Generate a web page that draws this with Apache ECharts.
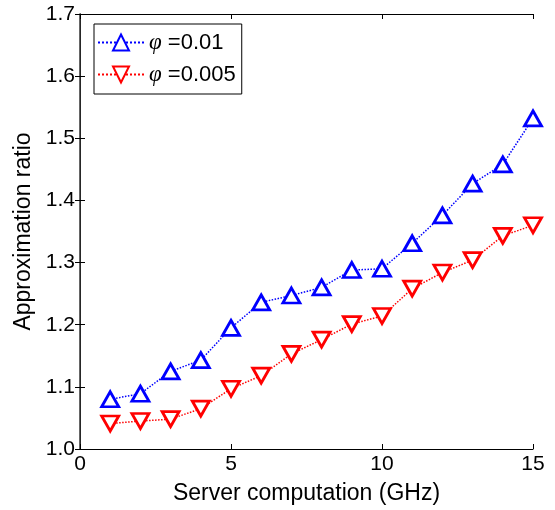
<!DOCTYPE html>
<html>
<head>
<meta charset="utf-8">
<script src="https://cdn.jsdelivr.net/npm/echarts@6/dist/echarts.min.js"></script>
<style>
  html, body { margin: 0; padding: 0; background: #fff; }
  #main { width: 555px; height: 510px; }
</style>
</head>
<body>
<div id="main"></div>
<script>
const xValues = [1, 2, 3, 4, 5, 6, 7, 8, 9, 10, 11, 12, 13, 14, 15]
const ratio001 = [1.080, 1.089, 1.125, 1.143, 1.195, 1.236, 1.247, 1.260, 1.288, 1.290, 1.331, 1.376, 1.427, 1.458, 1.532]
const ratio0005 = [1.041, 1.045, 1.048, 1.065, 1.097, 1.118, 1.153, 1.176, 1.201, 1.214, 1.258, 1.284, 1.304, 1.343, 1.360]
const seriesNames = ['{i|φ} =0.01', '{i|φ} =0.005']

const font = 'Liberation Sans, Arial, Helvetica, sans-serif'

function pairs(ys) {
  return xValues.map((x, i) => [x, ys[i]])
}

const chart = echarts.init(document.getElementById('main'))
const option = {
  animation: false,
  grid: { left: 80, right: 22, top: 14, bottom: 61, show: false },
  legend: {
    left: 94,
    top: 24,
    orient: 'vertical',
    backgroundColor: '#fff',
    borderColor: '#000',
    borderWidth: 1,
    borderRadius: 0,
    padding: [7, 6, 8, 3],
    itemWidth: 46,
    itemHeight: 20,
    itemGap: 9,
    data: seriesNames,
    textStyle: {
      fontFamily: font,
      fontSize: 22,
      color: '#000',
      rich: {
        i: { fontFamily: 'Liberation Serif, Times New Roman, serif', fontStyle: 'italic', fontSize: 23 }
      }
    }
  },
  xAxis: [
    {
      type: 'value',
      min: 0,
      max: 15,
      interval: 5,
      name: 'Server computation (GHz)',
      nameLocation: 'middle',
      nameGap: 33,
      nameTextStyle: { fontFamily: font, fontSize: 23, color: '#000' },
      axisLine: { show: true, lineStyle: { color: '#000', width: 1 } },
      axisTick: { show: true, inside: true, length: 5, lineStyle: { color: '#000' } },
      axisLabel: { fontFamily: font, fontSize: 21, color: '#000', margin: 5 },
      splitLine: { show: false }
    },
    {
      type: 'value',
      position: 'top',
      min: 0,
      max: 15,
      interval: 5,
      axisLine: { show: true, lineStyle: { color: '#000', width: 1 } },
      axisTick: { show: true, inside: true, length: 5, lineStyle: { color: '#000' } },
      axisLabel: { show: false },
      splitLine: { show: false }
    }
  ],
  yAxis: [
    {
      type: 'value',
      min: 1.0,
      max: 1.7,
      interval: 0.1,
      name: 'Approximation ratio',
      nameLocation: 'middle',
      nameGap: 40,
      nameTextStyle: { fontFamily: font, fontSize: 23, color: '#000' },
      axisLine: { show: true, lineStyle: { color: '#000', width: 1 } },
      axisTick: { show: true, inside: true, length: 5, lineStyle: { color: '#000' } },
      axisLabel: {
        fontFamily: font,
        fontSize: 21,
        color: '#000',
        margin: 5,
        formatter: v => v.toFixed(1)
      },
      splitLine: { show: false }
    },
    {
      type: 'value',
      position: 'right',
      min: 1.0,
      max: 1.7,
      interval: 0.1,
      axisLine: { show: true, lineStyle: { color: '#333', width: 1.5 } },
      axisTick: { show: true, inside: true, length: 5, lineStyle: { color: '#000' } },
      axisLabel: { show: false },
      splitLine: { show: false }
    }
  ],
  series: [
    {
      name: seriesNames[0],
      type: 'line',
      data: pairs(ratio001),
      symbol: 'triangle',
      symbolSize: [17, 15],
      showAllSymbol: true,
      lineStyle: { color: '#0000ff', width: 1.5, type: 'dotted' },
      itemStyle: { color: '#fff', borderColor: '#0000ff', borderWidth: 2.8 },
      z: 3
    },
    {
      name: seriesNames[1],
      type: 'line',
      data: pairs(ratio0005),
      symbol: 'triangle',
      symbolRotate: 180,
      symbolSize: [17, 15],
      showAllSymbol: true,
      lineStyle: { color: '#ff0000', width: 1.5, type: 'dotted' },
      itemStyle: { color: '#fff', borderColor: '#ff0000', borderWidth: 2.8 },
      z: 3
    }
  ]
}
chart.setOption(option)
</script>
</body>
</html>
